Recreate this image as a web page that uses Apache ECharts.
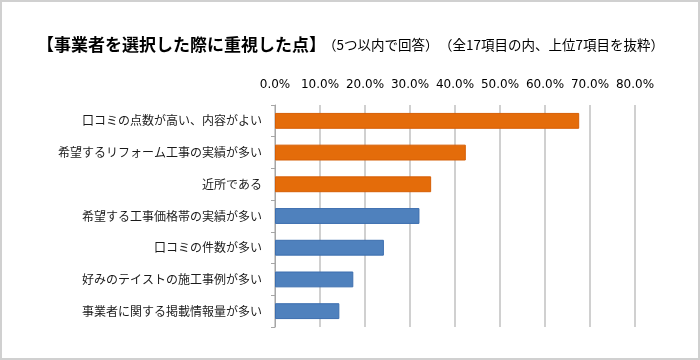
<!DOCTYPE html>
<html>
<head>
<meta charset="utf-8">
<script src="https://cdn.jsdelivr.net/npm/echarts@6/dist/echarts.min.js"></script>
<style>
html,body{margin:0;padding:0;background:#fff;}
#c{width:700px;height:360px;}
</style>
</head>
<body>
<div id="c"></div>
<script>
const titleText = '【事業者を選択した際に重視した点】';
const subText1 = '（5つ以内で回答）';
const subText2 = '（全17項目の内、上位7項目を抜粋）';
const categories = [
  '口コミの点数が高い、内容がよい',
  '希望するリフォーム工事の実績が多い',
  '近所である',
  '希望する工事価格帯の実績が多い',
  '口コミの件数が多い',
  '好みのテイストの施工事例が多い',
  '事業者に関する掲載情報量が多い'
];
const values = [67.6, 42.4, 34.7, 32.1, 24.2, 17.4, 14.3];
const highlightCount = 3;
const xTicks = [0, 10, 20, 30, 40, 50, 60, 70, 80];

const chart = echarts.init(document.getElementById('c'), null, {renderer:'canvas'});
const option = {
  animation: false,
  backgroundColor: '#ffffff',
  graphic: [
    {type:'rect', shape:{x:1,y:1,width:698,height:358}, style:{fill:'none', stroke:'#d0d0d0', lineWidth:2}, silent:true},
    {type:'text', left:37, top:36, style:{text:titleText, font:'bold 17px "Noto Sans CJK JP"', fill:'#000'}},
    {type:'text', left:323, top:38, style:{text:subText1, font:'13.5px "Noto Sans CJK JP"', fill:'#000'}},
    {type:'text', left:439, top:38, style:{text:subText2, font:'13.5px "Noto Sans CJK JP"', fill:'#000'}}
  ],
  grid: {left:275, right:65, top:105, bottom:33, containLabel:false},
  xAxis: {
    type:'value', position:'top',
    min: xTicks[0], max: xTicks[xTicks.length-1], interval: xTicks[1]-xTicks[0],
    axisLine:{show:false}, axisTick:{show:false},
    splitLine:{show:true, lineStyle:{color:'#c0c0c0', width:1.5}},
    axisLabel:{margin:14, color:'#000', fontSize:12, fontFamily:'"DejaVu Sans"',
      formatter: v => v.toFixed(1) + '%'}
  },
  yAxis: {
    type:'category', data: categories, inverse:true,
    axisLine:{show:true, lineStyle:{color:'#a6a6a6', width:1}},
    axisTick:{show:true, length:4, lineStyle:{color:'#a6a6a6'}},
    axisLabel:{margin:13, color:'#1a1a1a', fontSize:12, fontFamily:'"Noto Sans CJK JP"'}
  },
  series: [{
    type:'bar',
    barWidth:'50%',
    data: values.map((v,i)=>({
      value:v,
      itemStyle:{
        color: i < highlightCount ? '#E46C0A' : '#4F81BD',
        borderColor: i < highlightCount ? '#D65E05' : '#3C6EAF',
        borderWidth:1
      }
    }))
  }]
};
chart.setOption(option);
</script>
</body>
</html>
